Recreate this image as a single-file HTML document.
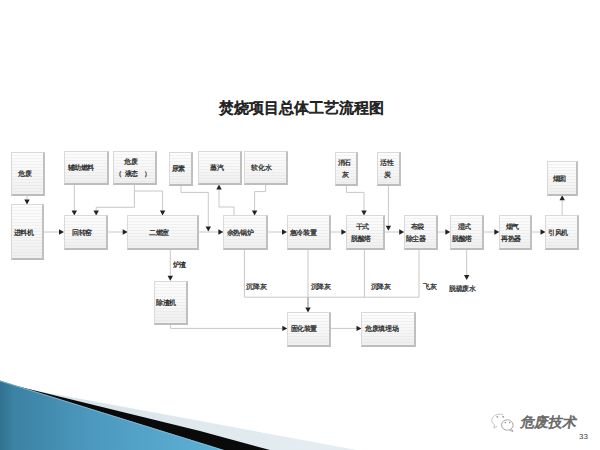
<!DOCTYPE html>
<html><head><meta charset="utf-8"><title>焚烧项目总体工艺流程图</title>
<style>
html,body{margin:0;padding:0;background:#fff;}
body{width:600px;height:450px;position:relative;overflow:hidden;font-family:"Liberation Sans",sans-serif;color:#333;}
.t{position:absolute;left:218.5px;top:100px;white-space:nowrap;font-size:15px;color:#222;line-height:16px;-webkit-text-stroke:0.85px #222;}
.b{position:absolute;box-sizing:border-box;border:1px solid #d9d9d9;border-right:2px solid #c0c0c0;border-bottom:2px solid #bdbdbd;background:repeating-linear-gradient(180deg,rgba(255,255,255,0) 0,rgba(255,255,255,0) 2px,rgba(215,215,215,.28) 2px,rgba(215,215,215,.28) 3px),linear-gradient(180deg,#fdfdfd 0%,#f7f7f7 55%,#efefef 100%);}
.x{position:absolute;font-size:6.6px;line-height:8px;height:8px;color:#262626;white-space:nowrap;-webkit-text-stroke:0.25px #262626;}
svg{position:absolute;left:0;top:0;}
.c{display:inline-block;width:1em;text-align:center;}
</style></head><body>
<svg width="600" height="450" viewBox="0 0 600 450">
<defs>
<linearGradient id="bl" gradientUnits="userSpaceOnUse" x1="0" y1="0" x2="224" y2="0">
<stop offset="0" stop-color="#31718f"/><stop offset="0.06" stop-color="#3b82a3"/><stop offset="0.4" stop-color="#4c98be"/><stop offset="1" stop-color="#5eb2d6"/>
</linearGradient>
<linearGradient id="lt" gradientUnits="userSpaceOnUse" x1="50" y1="0" x2="357" y2="0">
<stop offset="0" stop-color="#d8e4ea"/><stop offset="1" stop-color="#e6eef2"/>
</linearGradient>
</defs>
<path d="M0,384 L357,450 L0,450 Z" fill="url(#lt)"/>
<path d="M0,382 L100,406.5 L200,431 L270,450 L0,450 Z" fill="#0a0a0a"/>
<path d="M0,380.5 L224,450 L0,450 Z" fill="url(#bl)"/>
<path d="M0,381 L224,450.5" stroke="#8fc3dc" stroke-width="1" fill="none" opacity="0.7"/>
</svg>
<div class="t"><span class="c">焚</span><span class="c">烧</span><span class="c">项</span><span class="c">目</span><span class="c">总</span><span class="c">体</span><span class="c">工</span><span class="c">艺</span><span class="c">流</span><span class="c">程</span><span class="c">图</span></div>
<svg width="600" height="450" viewBox="0 0 600 450">
<g fill="none" stroke="#c8c8c8" stroke-width="1">
<path d="M27,195.3 L27,199.4"/>
<path d="M74.3,184.3 L74.3,210.4"/>
<path d="M134.4,184.3 L134.4,207.3 L96.2,207.3 L96.2,210.4"/>
<path d="M134.4,191 L162.6,191 L162.6,210.4"/>
<path d="M44,232 L59,232"/>
<path d="M107.8,232 L122.7,232"/>
<path d="M198.8,232 L218.3,232"/>
<path d="M181,185.6 L181,192.4 L208.3,192.4 L208.3,226.4"/>
<path d="M234,215.6 L234,207 L219,207 L219,189.4"/>
<path d="M265.6,184.4 L265.6,191.6 L254.6,191.6 L254.6,210.6"/>
<path d="M267.6,232 L282,232"/>
<path d="M330.8,232 L341.3,232"/>
<path d="M346.4,185.2 L346.4,192.4 L364,192.4 L364,210.4"/>
<path d="M384.2,232 L399.2,232"/>
<path d="M388.4,185.2 L388.4,225.8"/>
<path d="M437,232 L445.3,232"/>
<path d="M483.2,232 L494.3,232"/>
<path d="M532,232 L540.5,232"/>
<path d="M562.2,215.6 L562.2,200.2"/>
<path d="M170.3,249.4 L170.3,275.8"/>
<path d="M170.5,324.3 L170.5,328.4 L282.3,328.4"/>
<path d="M244.4,249.4 L244.4,297.2 L419,297.2"/>
<path d="M308,249.5 L308,307.6"/>
<path d="M364.4,249.3 L364.4,297.2"/>
<path d="M419,249.3 L419,297.2"/>
<path d="M466.7,249.3 L466.7,275"/>
<path d="M330.4,328.4 L356.5,328.4"/>
</g><path d="M308,297.5 L308,307.6" stroke="#9a9a9a" stroke-width="1" fill="none"/><g fill="#222">
<path d="M27,204.4 L24.3,199.4 L29.7,199.4 Z"/>
<path d="M74.3,215.4 L71.6,210.4 L77,210.4 Z"/>
<path d="M96.2,215.4 L93.5,210.4 L98.9,210.4 Z"/>
<path d="M162.6,215.4 L159.9,210.4 L165.3,210.4 Z"/>
<path d="M64,232 L59,234.7 L59,229.3 Z"/>
<path d="M127.7,232 L122.7,234.7 L122.7,229.3 Z"/>
<path d="M223.3,232 L218.3,234.7 L218.3,229.3 Z"/>
<path d="M208.3,231.4 L205.6,226.4 L211,226.4 Z"/>
<path d="M219,184.4 L221.7,189.4 L216.3,189.4 Z"/>
<path d="M254.6,215.6 L251.9,210.6 L257.3,210.6 Z"/>
<path d="M287,232 L282,234.7 L282,229.3 Z"/>
<path d="M346.3,232 L341.3,234.7 L341.3,229.3 Z"/>
<path d="M364,215.4 L361.3,210.4 L366.7,210.4 Z"/>
<path d="M404.2,232 L399.2,234.7 L399.2,229.3 Z"/>
<path d="M388.4,230.8 L385.7,225.8 L391.1,225.8 Z"/>
<path d="M450.3,232 L445.3,234.7 L445.3,229.3 Z"/>
<path d="M499.3,232 L494.3,234.7 L494.3,229.3 Z"/>
<path d="M545.5,232 L540.5,234.7 L540.5,229.3 Z"/>
<path d="M562.2,195.2 L564.9,200.2 L559.5,200.2 Z"/>
<path d="M170.3,280.8 L167.6,275.8 L173,275.8 Z"/>
<path d="M287.3,328.4 L282.3,331.1 L282.3,325.7 Z"/>
<path d="M308,312.6 L305.3,307.6 L310.7,307.6 Z"/>
<path d="M466.7,280 L464,275 L469.4,275 Z"/>
<path d="M361.5,328.4 L356.5,331.1 L356.5,325.7 Z"/>
</g></svg>
<div class="b" style="left:11px;top:152px;width:34px;height:44px"></div>
<div class="b" style="left:64px;top:151px;width:45px;height:34px"></div>
<div class="b" style="left:113px;top:151px;width:44px;height:34px"></div>
<div class="b" style="left:169px;top:152px;width:24px;height:34px"></div>
<div class="b" style="left:198px;top:151px;width:44px;height:34px"></div>
<div class="b" style="left:244px;top:151px;width:44px;height:34px"></div>
<div class="b" style="left:335px;top:152px;width:23px;height:34px"></div>
<div class="b" style="left:377px;top:152px;width:24px;height:34px"></div>
<div class="b" style="left:547px;top:161px;width:31px;height:35px"></div>
<div class="b" style="left:11px;top:204px;width:33px;height:56px"></div>
<div class="b" style="left:64px;top:215px;width:44px;height:35px"></div>
<div class="b" style="left:127px;top:215px;width:72px;height:35px"></div>
<div class="b" style="left:223px;top:215px;width:45px;height:35px"></div>
<div class="b" style="left:287px;top:215px;width:44px;height:35px"></div>
<div class="b" style="left:346px;top:215px;width:39px;height:35px"></div>
<div class="b" style="left:404px;top:215px;width:34px;height:35px"></div>
<div class="b" style="left:450px;top:215px;width:34px;height:35px"></div>
<div class="b" style="left:499px;top:215px;width:33px;height:35px"></div>
<div class="b" style="left:545px;top:215px;width:34px;height:35px"></div>
<div class="b" style="left:154px;top:281px;width:34px;height:44px"></div>
<div class="b" style="left:287px;top:312px;width:44px;height:35px"></div>
<div class="b" style="left:361px;top:312px;width:55px;height:35px"></div>
<div class="x" style="left:18.1px;top:170.3px"><span class="c">危</span><span class="c">废</span></div>
<div class="x" style="left:67.7px;top:163.5px"><span class="c">辅</span><span class="c">助</span><span class="c">燃</span><span class="c">料</span></div>
<div class="x" style="left:124.1px;top:158px"><span class="c">危</span><span class="c">废</span></div>
<div class="x" style="left:114.9px;top:169.5px"><span class="c">（</span></div>
<div class="x" style="left:124.7px;top:169.5px"><span class="c">液</span><span class="c">态</span></div>
<div class="x" style="left:144.3px;top:169.5px"><span class="c">）</span></div>
<div class="x" style="left:171.7px;top:165.2px"><span class="c">尿</span><span class="c">素</span></div>
<div class="x" style="left:210.1px;top:163.5px"><span class="c">蒸</span><span class="c">汽</span></div>
<div class="x" style="left:251.4px;top:163.5px"><span class="c">软</span><span class="c">化</span><span class="c">水</span></div>
<div class="x" style="left:337.7px;top:159.1px"><span class="c">消</span><span class="c">石</span></div>
<div class="x" style="left:342px;top:170.7px"><span class="c">灰</span></div>
<div class="x" style="left:380.1px;top:159.1px"><span class="c">活</span><span class="c">性</span></div>
<div class="x" style="left:383.7px;top:170.7px"><span class="c">炭</span></div>
<div class="x" style="left:552.7px;top:175px"><span class="c">烟</span><span class="c">囱</span></div>
<div class="x" style="left:13.6px;top:228.6px"><span class="c">进</span><span class="c">料</span><span class="c">机</span></div>
<div class="x" style="left:72.1px;top:228.6px"><span class="c">回</span><span class="c">转</span><span class="c">窑</span></div>
<div class="x" style="left:149.2px;top:228.5px"><span class="c">二</span><span class="c">燃</span><span class="c">室</span></div>
<div class="x" style="left:226.8px;top:228.7px"><span class="c">余</span><span class="c">热</span><span class="c">锅</span><span class="c">炉</span></div>
<div class="x" style="left:289.9px;top:228.9px"><span class="c">急</span><span class="c">冷</span><span class="c">装</span><span class="c">置</span></div>
<div class="x" style="left:355.5px;top:222.9px"><span class="c">干</span><span class="c">式</span></div>
<div class="x" style="left:351px;top:234.5px"><span class="c">脱</span><span class="c">酸</span><span class="c">塔</span></div>
<div class="x" style="left:410.5px;top:222.9px"><span class="c">布</span><span class="c">袋</span></div>
<div class="x" style="left:405.5px;top:234.5px"><span class="c">除</span><span class="c">尘</span><span class="c">器</span></div>
<div class="x" style="left:457.7px;top:222.9px"><span class="c">湿</span><span class="c">式</span></div>
<div class="x" style="left:452.2px;top:234.5px"><span class="c">脱</span><span class="c">酸</span><span class="c">塔</span></div>
<div class="x" style="left:505.5px;top:222.9px"><span class="c">烟</span><span class="c">气</span></div>
<div class="x" style="left:501px;top:234.5px"><span class="c">再</span><span class="c">热</span><span class="c">器</span></div>
<div class="x" style="left:548px;top:228.5px"><span class="c">引</span><span class="c">风</span><span class="c">机</span></div>
<div class="x" style="left:156.2px;top:299.4px"><span class="c">除</span><span class="c">渣</span><span class="c">机</span></div>
<div class="x" style="left:290.5px;top:325.4px"><span class="c">固</span><span class="c">化</span><span class="c">装</span><span class="c">置</span></div>
<div class="x" style="left:365.2px;top:325.4px"><span class="c">危</span><span class="c">废</span><span class="c">填</span><span class="c">埋</span><span class="c">场</span></div>
<div class="x" style="left:172.6px;top:261.2px"><span class="c">炉</span><span class="c">渣</span></div>
<div class="x" style="left:246.4px;top:283px"><span class="c">沉</span><span class="c">降</span><span class="c">灰</span></div>
<div class="x" style="left:310.5px;top:283px"><span class="c">沉</span><span class="c">降</span><span class="c">灰</span></div>
<div class="x" style="left:370.7px;top:283px"><span class="c">沉</span><span class="c">降</span><span class="c">灰</span></div>
<div class="x" style="left:423.3px;top:283px"><span class="c">飞</span><span class="c">灰</span></div>
<div class="x" style="left:449.3px;top:284.5px"><span class="c">脱</span><span class="c">硫</span><span class="c">废</span><span class="c">水</span></div>
<div style="position:absolute;left:521px;top:415px;font-size:14px;line-height:15px;color:#6a6a6a;transform:skewX(-10deg);-webkit-text-stroke:0.7px #6a6a6a"><span class="c">危</span><span class="c">废</span><span class="c">技</span><span class="c">术</span></div>
<div style="position:absolute;left:579px;top:432px;font-size:8px;line-height:9px;color:#444">33</div>
<svg width="600" height="450" viewBox="0 0 600 450">
<g fill="none" stroke-width="1">
<path d="M503,414.8 C500,413.5 494.5,414 492.5,418 C491,421 492.5,423.5 494.5,424.8 L493.8,428 L497.2,426.2" stroke="#c4c4c4"/>
<ellipse cx="507.3" cy="425" rx="5.8" ry="5.2" stroke="#a8a8a8"/>
<path d="M511.5,429 L513,431.5 L509.6,430.3" stroke="#a8a8a8"/>
</g>
<g fill="#909090">
<circle cx="497.3" cy="416.8" r="0.9"/><circle cx="503.2" cy="416.8" r="0.9"/>
<circle cx="505.3" cy="422.6" r="0.8"/><circle cx="509.8" cy="422.6" r="0.8"/>
</g>
</svg>
</body></html>
